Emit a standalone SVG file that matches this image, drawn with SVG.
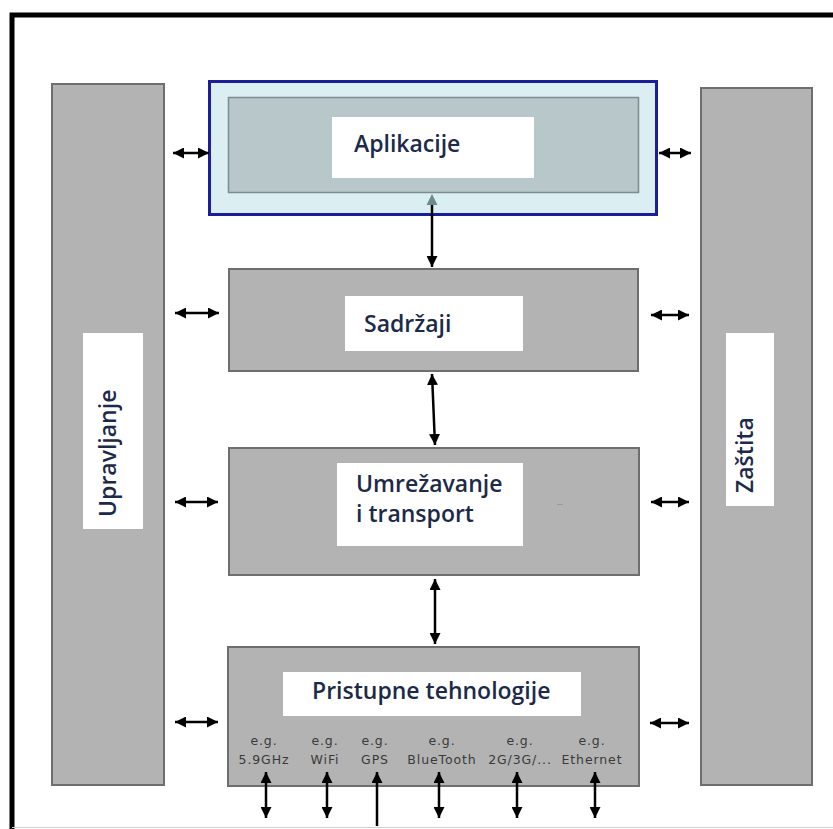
<svg xmlns="http://www.w3.org/2000/svg" width="833" height="829" viewBox="0 0 833 829">
<defs>
<marker id="ah" markerUnits="userSpaceOnUse" markerWidth="11" markerHeight="11" refX="10" refY="5" orient="auto-start-reverse" viewBox="0 0 10 10">
<path d="M0,0 L10,5 L0,10 z" fill="#000"/>
</marker>
<style>
.box{fill:#b3b3b3;stroke:#6e6e6e;stroke-width:2}
.lbl{fill:#fff}
.t{font-family:"Open Sans","Liberation Sans",sans-serif;font-weight:600;font-size:23px;fill:#1c2a4a}
.s{font-family:"DejaVu Sans","Liberation Sans",sans-serif;font-size:12.5px;fill:#3a3a3a;text-anchor:middle;letter-spacing:0.9px}
.c{stroke:#000;stroke-width:2.5;fill:none}
.c2{marker-start:url(#ah);marker-end:url(#ah)}
</style>
</defs>
<rect width="833" height="829" fill="#fff"/>
<g id="frame">
<path d="M12,829 L12,15 L833,15" fill="none" stroke="#000" stroke-width="5"/>
<line x1="12" y1="827.5" x2="833" y2="827.5" stroke="#d0d0d0" stroke-width="1"/>
</g>
<g id="upravljanje">
<rect class="box" x="52" y="84" width="112" height="701"/>
<rect class="lbl" x="83" y="333" width="60" height="196"/>
<text class="t" transform="translate(116,517) rotate(-90)">Upravljanje</text>
</g>
<g id="zastita">
<rect class="box" x="701" y="88" width="111" height="697"/>
<rect class="lbl" x="726" y="333" width="48" height="173"/>
<text class="t" transform="translate(753,493) rotate(-90)">Zaštita</text>
</g>
<g id="aplikacije">
<rect x="209.5" y="81.5" width="447" height="133" fill="#dbeef2" stroke="#1a1f99" stroke-width="3"/>
<rect x="228.5" y="97.5" width="410" height="95" fill="#b8c7c9" stroke="#7d8d8f" stroke-width="1.5"/>
<rect class="lbl" x="332" y="117" width="202" height="61"/>
<text class="t" x="354" y="152">Aplikacije</text>
</g>
<g id="sadrzaji">
<rect class="box" x="229" y="269" width="409" height="102"/>
<rect class="lbl" x="345" y="296" width="178" height="55"/>
<text class="t" x="364" y="332">Sadržaji</text>
</g>
<g id="umrezavanje">
<rect class="box" x="229" y="448" width="410" height="127"/>
<rect class="lbl" x="337" y="463" width="186" height="83"/>
<text class="t" x="356" y="492">Umrežavanje</text>
<text class="t" x="356" y="522">i transport</text>
<text x="560" y="507" font-family="Liberation Sans, sans-serif" font-size="9" fill="#8a8a8a" text-anchor="middle">--</text>
</g>
<g id="pristupne">
<rect class="box" x="228" y="647" width="411" height="139"/>
<rect class="lbl" x="283" y="672" width="298" height="44"/>
<text class="t" x="312" y="699">Pristupne tehnologije</text>
<text class="s" x="264" y="745">e.g.</text><text class="s" x="264" y="764">5.9GHz</text>
<text class="s" x="325" y="745">e.g.</text><text class="s" x="325" y="764">WiFi</text>
<text class="s" x="375" y="745">e.g.</text><text class="s" x="375" y="764">GPS</text>
<text class="s" x="442" y="745">e.g.</text><text class="s" x="442" y="764">BlueTooth</text>
<text class="s" x="520" y="745">e.g.</text><text class="s" x="520" y="764">2G/3G/...</text>
<text class="s" x="592" y="745">e.g.</text><text class="s" x="592" y="764">Ethernet</text>
</g>
<g id="connectors">
<polygon points="432,194 437.5,205 426.5,205" fill="#6f8a8e"/>
<line class="c" x1="432" y1="205" x2="432" y2="267" marker-end="url(#ah)"/>
<line class="c c2" x1="432" y1="374" x2="435" y2="445"/>
<line class="c c2" x1="435" y1="579" x2="435" y2="644"/>
<line class="c c2" x1="173" y1="153" x2="209" y2="153"/>
<line class="c c2" x1="175" y1="313" x2="219" y2="313"/>
<line class="c c2" x1="175" y1="502" x2="218" y2="502"/>
<line class="c c2" x1="175" y1="722" x2="218" y2="722"/>
<line class="c c2" x1="659" y1="153" x2="691" y2="153"/>
<line class="c c2" x1="651" y1="315" x2="689" y2="315"/>
<line class="c c2" x1="651" y1="502" x2="689" y2="502"/>
<line class="c c2" x1="650" y1="723" x2="689" y2="723"/>
<line class="c c2" x1="266" y1="772" x2="266" y2="818"/>
<line class="c c2" x1="327" y1="772" x2="327" y2="818"/>
<line class="c" x1="377" y1="772" x2="377" y2="826" marker-start="url(#ah)"/>
<line class="c c2" x1="439" y1="772" x2="439" y2="818"/>
<line class="c c2" x1="517" y1="772" x2="517" y2="818"/>
<line class="c c2" x1="595" y1="772" x2="595" y2="818"/>
</g>
</svg>
